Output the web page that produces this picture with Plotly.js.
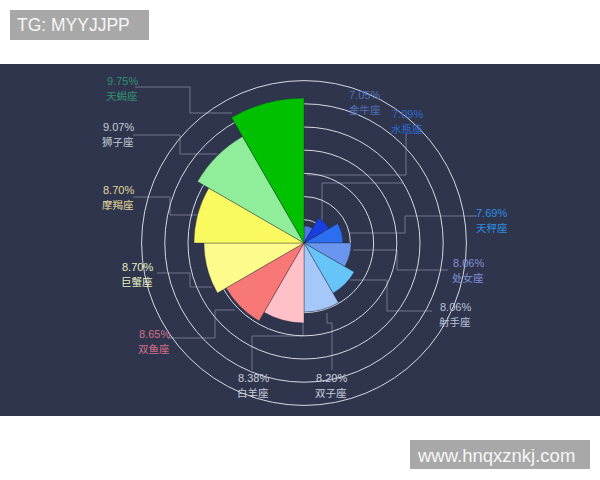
<!DOCTYPE html>
<html>
<head>
<meta charset="utf-8">
<script src="https://cdn.plot.ly/plotly-3.0.1.min.js"></script>
<style>
html,body{margin:0;padding:0;background:#fff;}
#chart{width:600px;height:480px;}
</style>
</head>
<body>
<div id="chart"></div>
<script>
// ---- data (clockwise from 12 o'clock) ----
const signs    = ['金牛座','水瓶座','天秤座','处女座','射手座','双子座','白羊座','双鱼座','巨蟹座','摩羯座','狮子座','天蝎座'];
const percents = ['7.05%','7.09%','7.69%','8.06%','8.06%','8.20%','8.38%','8.65%','8.70%','8.70%','9.07%','9.75%'];
// wedge radius as drawn in the picture (radial axis units)
const radii    = [17, 29, 39, 47, 58, 69, 80, 90, 100, 110, 123, 145];
const ringVals = [23.2, 46.4, 69.6, 92.8, 116, 139.2, 162.4];

// ---- styles ----
const wedgeColors = ['#4f78e0','#1a3fe0','#2b6ef0','#6a96f0','#66c4f8','#a6c8f8',
                     '#ffc0c8','#f87878','#fdfb8c','#fafa60','#90ee9a','#00c000'];
const labelColors = ['#5070b8','#2d6ad0','#2d8ee0','#8090d8','#b8c4d8','#c8d0dc',
                     '#c8ccd8','#d0708a','#e6eec0','#e0d89a','#c0ccd4','#2f8f6f'];
const labelPos = [[365,102],[407,121],[492,220],[468,270],[455,314],[331,385],
                  [253,385],[154,341],[137,274],[118,197],[118,134],[122,88]];
const leaders = [
  [[322,225],[322,183],[403,183]],
  [[406,134],[406,175],[307,175]],
  [[477,216],[405,216],[405,233],[350,233]],
  [[448,270],[397,270],[397,250],[353,250]],
  [[432,311],[387,311],[387,280],[350,280]],
  [[332,370],[332,323],[327,323],[327,313]],
  [[252,370],[252,336],[303,336],[303,323]],
  [[168,338],[215,338],[215,310],[235,310]],
  [[157,273],[190,273],[190,287],[212,287]],
  [[133,197],[170,197],[170,215],[197,215]],
  [[133,135],[180,135],[180,154],[217,154]],
  [[135,87],[190,87],[190,113],[232,113]]
];

const W = 600, H = 480;
const px = x => x / W;
const py = y => 1 - y / H;

const cx = 304, cy = 243, R = 170;

const shapes = [];
shapes.push({type:'rect', xref:'paper', yref:'paper', x0:0, x1:1, y0:py(416), y1:py(64),
  fillcolor:'#30354e', line:{width:0}, layer:'below'});
leaders.forEach(pts => {
  for (let i = 0; i < pts.length - 1; i++) {
    shapes.push({type:'line', xref:'paper', yref:'paper',
      x0:px(pts[i][0]), y0:py(pts[i][1]), x1:px(pts[i+1][0]), y1:py(pts[i+1][1]),
      line:{color:'#70768c', width:1}, layer:'below'});
  }
});
shapes.push({type:'rect', xref:'paper', yref:'paper', x0:px(10), x1:px(149), y0:py(40), y1:py(10),
  fillcolor:'#a8a8a8', line:{width:0}, layer:'above'});
shapes.push({type:'rect', xref:'paper', yref:'paper', x0:px(410), x1:px(590), y0:py(469), y1:py(440),
  fillcolor:'#a8a8a8', line:{width:0}, layer:'above'});

const annotations = [];
signs.forEach((s, i) => {
  annotations.push({xref:'paper', yref:'paper', x:px(labelPos[i][0]), y:py(labelPos[i][1] - 7),
    xanchor:'center', yanchor:'middle', showarrow:false, borderpad:0,
    text: percents[i],
    font:{family:'"Liberation Sans", Arial, sans-serif', size:11, color:labelColors[i]}});
  annotations.push({xref:'paper', yref:'paper', x:px(labelPos[i][0]), y:py(labelPos[i][1] + 7.5),
    xanchor:'center', yanchor:'middle', showarrow:false, borderpad:0,
    text: s,
    font:{family:'"Noto Sans CJK SC", "Noto Sans", sans-serif', size:10.5, color:labelColors[i]}});
});
annotations.push({xref:'paper', yref:'paper', x:px(15), y:py(25), xanchor:'left', yanchor:'middle',
  showarrow:false, text:'TG: MYYJJPP',
  font:{family:'"Liberation Sans", Arial, sans-serif', size:17.5, color:'#f6f6f6'}});
annotations.push({xref:'paper', yref:'paper', x:px(415), y:py(455), xanchor:'left', yanchor:'middle',
  showarrow:false, text:'www.hnqxznkj.com',
  font:{family:'"Liberation Sans", Arial, sans-serif', size:18.5, color:'#f6f6f6'}});

const trace = {
  type:'barpolar',
  r: radii,
  theta: signs,
  marker:{color: wedgeColors, line:{color:'rgba(30,34,50,0.6)', width:0.6}},
  hoverinfo:'skip'
};

const layout = {
  width:W, height:H,
  margin:{l:0, r:0, t:0, b:0},
  paper_bgcolor:'#ffffff',
  showlegend:false,
  polar:{
    domain:{x:[px(cx-R), px(cx+R)], y:[py(cy+R), py(cy-R)]},
    bgcolor:'rgba(0,0,0,0)',
    bargap:0,
    radialaxis:{range:[0,R], tickvals:ringVals, showticklabels:false, ticks:'',
      showline:false, gridcolor:'#d4d8e4', gridwidth:1},
    angularaxis:{type:'category', rotation:75, direction:'clockwise',
      showgrid:false, showline:false, showticklabels:false, ticks:''}
  },
  shapes: shapes,
  annotations: annotations
};

Plotly.newPlot('chart', [trace], layout, {staticPlot:true, displayModeBar:false});
</script>
</body>
</html>
